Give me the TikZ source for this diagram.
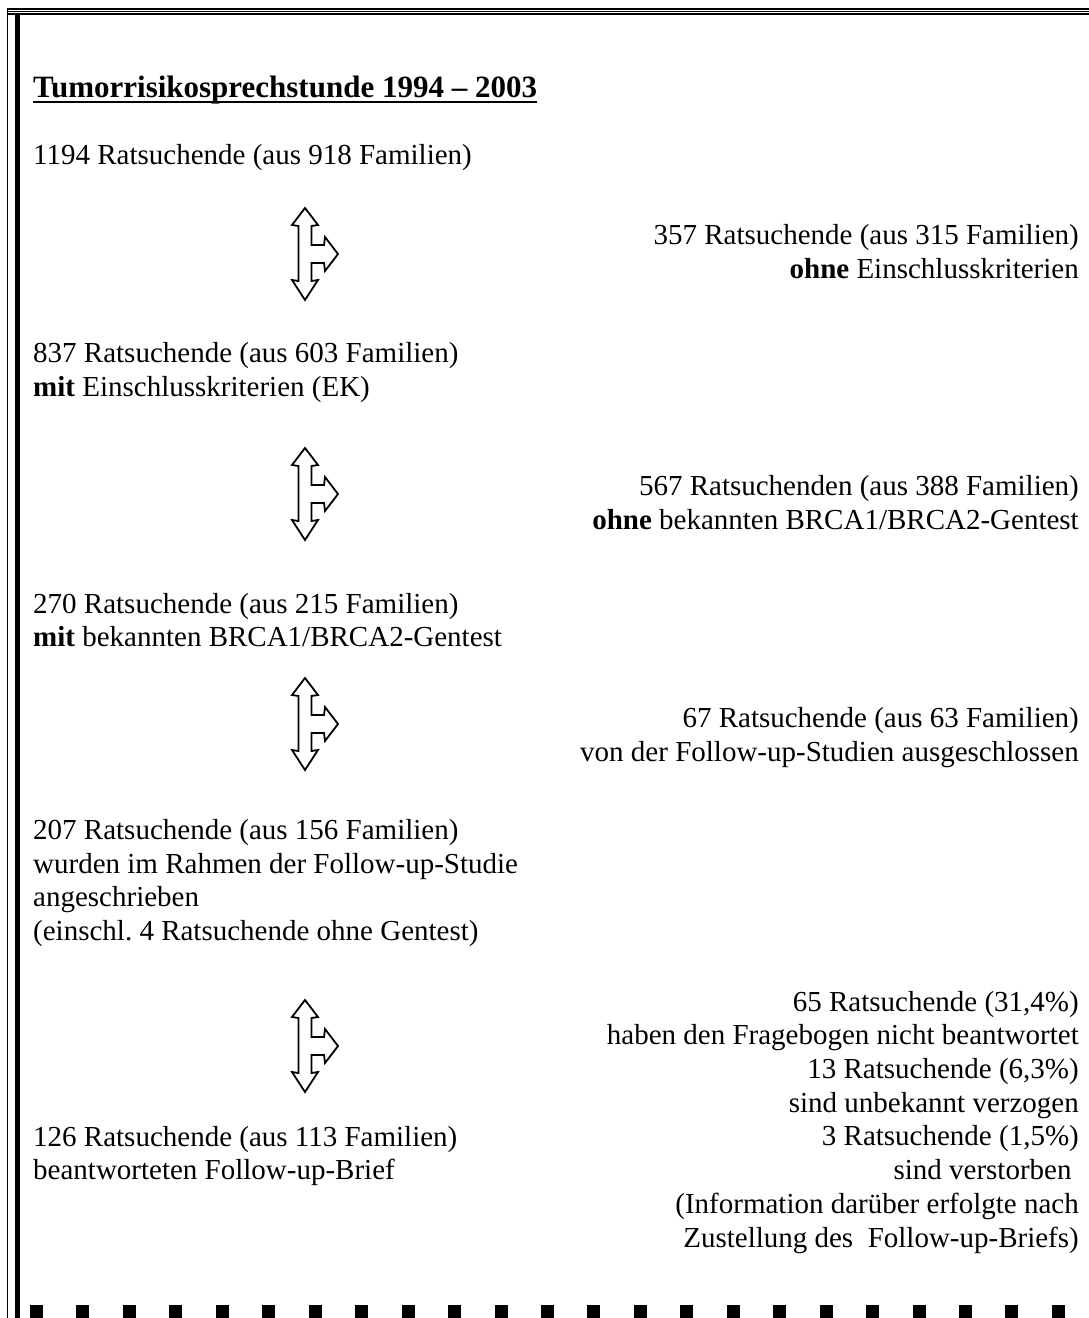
\documentclass[tikz,border=0pt]{standalone}
\usepackage{fontspec}
\setmainfont{Liberation Serif}
\usetikzlibrary{positioning}
\frenchspacing

\begin{document}
\begin{tikzpicture}[
  x=1pt,y=-1pt,
  every node/.style={font=\fontsize{29}{33.4}\selectfont,inner sep=0pt},
  % multi-line nodes: the base anchor sits on the last line
  lefttext/.style={anchor=base west,align=left},
  righttext/.style={anchor=base east,align=right},
  splitarr/.pic={
    \draw[line width=1.8,line join=miter]
      (0,-46) -- (13,-29) -- (6.5,-28) -- (6.5,-9) -- (19,-9) -- (20,-17)
      -- (33,0) -- (20,17) -- (19,9) -- (6.5,9) -- (6.5,27) -- (13,26)
      -- (0,46) -- (-13,26) -- (-6.5,27) -- (-6.5,-28) -- (-13,-29) -- cycle;
  }
]
\useasboundingbox (0,0) rectangle (1089,1318);

% frame
\draw[line width=2] (7,9) -- (1089,9);
\draw[line width=1.3] (7,11.7) -- (1089,11.7);
\draw[line width=2] (7,14.3) -- (1089,14.3);
\draw[line width=1.6] (7.5,8) -- (7.5,1318);
\draw[line width=5.5] (17.5,13.3) -- (17.5,1318);
\foreach \i in {0,...,22}
  \fill ({30+46.45*\i},1305) rectangle ++(13,13);

% title
\node[font=\bfseries\fontsize{31}{34}\selectfont,anchor=base west] (title) at (33,97)
  {Tumorrisikosprechstunde 1994 – 2003};
\draw[line width=2] ([yshift=-5]title.base west) -- ([yshift=-5]title.base east);

% left column
\node[lefttext] (all) at (33,164) {1194 Ratsuchende (aus 918 Familien)};
\node[lefttext] (withek) at (33,396)
  {837 Ratsuchende (aus 603 Familien)\\\textbf{mit} Einschlusskriterien (EK)};
\node[lefttext] (withtest) at (33,646.5)
  {270 Ratsuchende (aus 215 Familien)\\\textbf{mit} bekannten BRCA1/BRCA2-Gentest};
\node[lefttext] (written) at (33,940)
  {207 Ratsuchende (aus 156 Familien)\\wurden im Rahmen der Follow-up-Studie\\angeschrieben\\(einschl. 4 Ratsuchende ohne Gentest)};
\node[lefttext,font=\fontsize{29}{33.7}\selectfont] (answered) at (33,1179.7)
  {126 Ratsuchende (aus 113 Familien)\\beantworteten Follow-up-Brief};

% right column
\node[righttext] (noek) at (1079,278)
  {357 Ratsuchende (aus 315 Familien)\\\textbf{ohne} Einschlusskriterien};
\node[righttext] (notest) at (1079,529)
  {567 Ratsuchenden (aus 388 Familien)\\\textbf{ohne} bekannten BRCA1/BRCA2-Gentest};
\node[righttext] (excluded) at (1079,761)
  {67 Ratsuchende (aus 63 Familien)\\von der Follow-up-Studien ausgeschlossen};
\node[righttext,font=\fontsize{29}{33.7}\selectfont] (lost) at (1079,1247)
  {65 Ratsuchende (31,4\%)\\haben den Fragebogen nicht beantwortet\\13 Ratsuchende (6,3\%)\\sind unbekannt verzogen\\3 Ratsuchende (1,5\%)\\sind verstorben\kern0.25em\\(Information darüber erfolgte nach\\Zustellung des~ Follow-up-Briefs)};

% split arrows
\pic (arr1) at (305,254) {splitarr};
\pic (arr2) at (305,494) {splitarr};
\pic (arr3) at (305,724) {splitarr};
\pic (arr4) at (305,1046) {splitarr};
\end{tikzpicture}
\end{document}
